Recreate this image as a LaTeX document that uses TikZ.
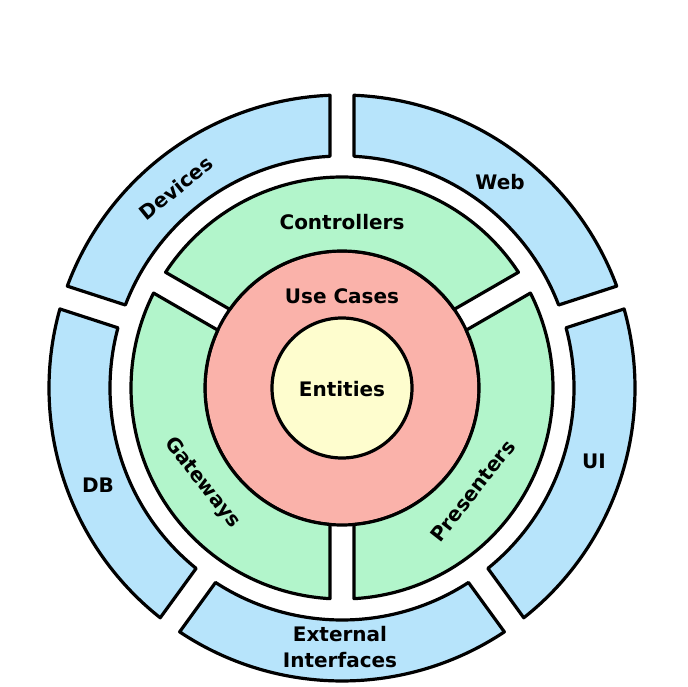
\documentclass[tikz,border=0pt]{standalone}
\usepackage{fontspec}
\setmainfont{DejaVu Sans}
\definecolor{ringblue}{RGB}{183,228,251}
\definecolor{ringgreen}{RGB}{178,245,203}
\definecolor{ringpink}{RGB}{250,178,170}
\definecolor{ringyellow}{RGB}{254,253,206}
\tikzset{
  part/.style={draw=black, line width=3.2pt, line join=round},
  lab/.style={font=\fontsize{20}{26}\selectfont\bfseries, text=black, align=center, inner sep=0pt}
}
% half width of the white gaps
\newcommand{\gapw}{12}
% #1 colour, #2 from angle, #3 to angle, #4 inner radius, #5 outer radius
\newcommand{\ringpart}[5]{%
  \draw[part, fill=#1] ({#2+asin(\gapw/#5)}:#5pt)
    arc[start angle={#2+asin(\gapw/#5)}, end angle={#3-asin(\gapw/#5)}, radius=#5pt]
    -- ({#3-asin(\gapw/#4)}:#4pt)
    arc[start angle={#3-asin(\gapw/#4)}, end angle={#2+asin(\gapw/#4)}, radius=#4pt]
    -- cycle;}
\begin{document}
\begin{tikzpicture}
\useasboundingbox (0,0) rectangle (688pt,686pt);
\begin{scope}[shift={(342pt,298pt)}]
% inner circles
\draw[part, fill=ringpink] (0,0) circle[radius=137pt];
\draw[part, fill=ringyellow] (0,0) circle[radius=70pt];
% green ring
\ringpart{ringgreen}{30}{150}{137}{211}
\ringpart{ringgreen}{150}{270}{137}{211}
\ringpart{ringgreen}{270}{390}{137}{211}
% blue ring
\ringpart{ringblue}{18}{90}{232}{293}
\ringpart{ringblue}{90}{162}{232}{293}
\ringpart{ringblue}{162}{234}{232}{293}
\ringpart{ringblue}{234}{306}{232}{293}
\ringpart{ringblue}{306}{378}{232}{293}
\end{scope}
\node[lab] (entities) at (342pt,297pt) {Entities};
\node[lab] (usecases) at (342pt,390pt) {Use Cases};
\node[lab] (controllers) at (342pt,464pt) {Controllers};
\node[lab, rotate=-52] (gateways) at (202pt,203pt) {Gateways};
\node[lab, rotate=52] (presenters) at (473pt,195pt) {Presenters};
\node[lab] (web) at (500pt,504pt) {Web};
\node[lab, rotate=39] (devices) at (176pt,498pt) {Devices};
\node[lab] (db) at (98pt,201pt) {DB};
\node[lab] (ui) at (594pt,225pt) {UI};
\node[lab] (external) at (340pt,39pt) {External\\Interfaces};
\end{tikzpicture}
\end{document}
